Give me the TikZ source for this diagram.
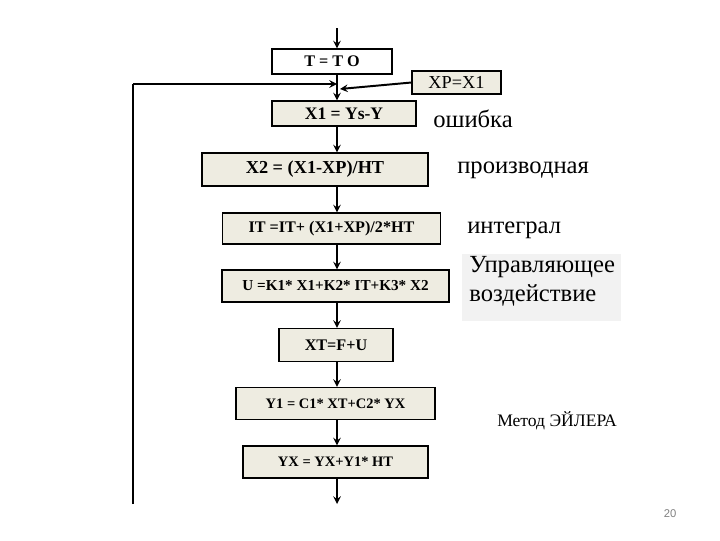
\documentclass[tikz,border=0pt]{standalone}
\usepackage{fontspec}
\setmainfont{Liberation Serif}
\setsansfont{Liberation Sans}
\usetikzlibrary{arrows}
\definecolor{beige}{RGB}{238,236,225}
\definecolor{panel}{RGB}{242,242,242}
\newcommand{\bxfont}[1]{\fontsize{#1}{#1}\selectfont\bfseries}
\newcommand{\lbfont}{\rmfamily\fontsize{17.5}{20}\selectfont}
\tikzstyle{rect} = [rectangle, draw=black, line width=0.8pt, fill=beige, inner sep=0pt, text centered, font=\bxfont{11.5}]
\tikzstyle{blank} = [rectangle, inner sep=0pt]
\tikzstyle{arrow} = [->,>=stealth, line width=1.4pt]
\tikzstyle{fbline} = [line width=0.8pt]

\begin{document}
\begin{tikzpicture}[x=0.025cm, y=-0.025cm]
        \useasboundingbox (0,0) rectangle (720,540);
        \coordinate (spine) at (337,0);
        \coordinate (start) at (337,28);
        \coordinate (join) at (337,84);
        \coordinate (xpin) at (340,89);
        \coordinate (end) at (337,504);
        \coordinate (fbbot) at (133,504);
        \coordinate (fbtop) at (133,84);

        % blocks of the loop
        \node[rect, fill=white, minimum width=3cm, minimum height=0.625cm] (t) at (332,61.5) {T = T O};
        \node[rect, font=\fontsize{13}{13}\selectfont, minimum width=2.225cm, minimum height=0.575cm] (xp) at (456.5,82.5) {XP=X1};
        \node[rect, font=\bxfont{12.5}, minimum width=3.6cm, minimum height=0.625cm] (x1) at (344,113.5) {X1 = Ys-Y};
        \node[rect, font=\bxfont{13}, minimum width=5.65cm, minimum height=0.825cm] (x2) at (315,169.5) {X2 = (X1-XP)/HT};
        \node[rect, minimum width=5.45cm, minimum height=0.775cm] (it) at (331.5,228.5) {IT =IT+ (X1+XP)/2*HT};
        \node[rect, font=\bxfont{10.8}, minimum width=5.675cm, minimum height=0.8cm] (u) at (335.5,286) {U =K1* X1+K2* IT+K3* X2};
        \node[rect, minimum width=2.85cm, minimum height=0.825cm] (xt) at (336,345) {XT=F+U};
        \node[rect, font=\bxfont{10.3}, minimum width=4.975cm, minimum height=0.8cm] (y1) at (335.5,403.5) {Y1 = C1* XT+C2* YX};
        \node[rect, font=\bxfont{10.3}, minimum width=4.625cm, minimum height=0.8cm] (yx) at (335.5,462) {YX = YX+Y1* HT};

        % comments on the right
        \node[blank, anchor=base west, font=\lbfont] (err) at (433,127) {ошибка};
        \node[blank, anchor=base west, font=\lbfont] (der) at (457,173) {производная};
        \node[blank, anchor=base west, font=\lbfont] (int) at (467,233) {интеграл};
        \node[blank, fill=panel, minimum width=3.975cm, minimum height=1.675cm] (ctrl) at (541.5,287.5) {};
        \node[blank, anchor=base west, font=\lbfont] (ctrla) at (469,272.5) {Управляющее};
        \node[blank, anchor=base west, font=\lbfont] (ctrlb) at (469,301) {воздействие};
        \node[blank, anchor=base west, font=\fontsize{12.5}{12.5}\selectfont] (euler) at (497,426) {Метод ЭЙЛЕРА};
        \node[blank, font=\sffamily\fontsize{8}{8}\selectfont, text=gray] (page) at (670,514) {20};

        \draw[arrow] (start) -- (t.north -| spine);
        \draw[arrow] (t.south -| spine) -- (x1.north -| spine);
        \draw[fbline] (fbbot) -- (fbtop);
        \draw[arrow] (fbtop) -- (join);
        \draw[arrow] (xp.west) -- (xpin);
        \foreach \a/\b in {x1/x2, x2/it, it/u, u/xt, xt/y1, y1/yx}
        {\draw[arrow] (\a.south -| spine) -- (\b.north -| spine);}
        \draw[arrow] (yx.south -| spine) -- (end);
\end{tikzpicture}
\end{document}
